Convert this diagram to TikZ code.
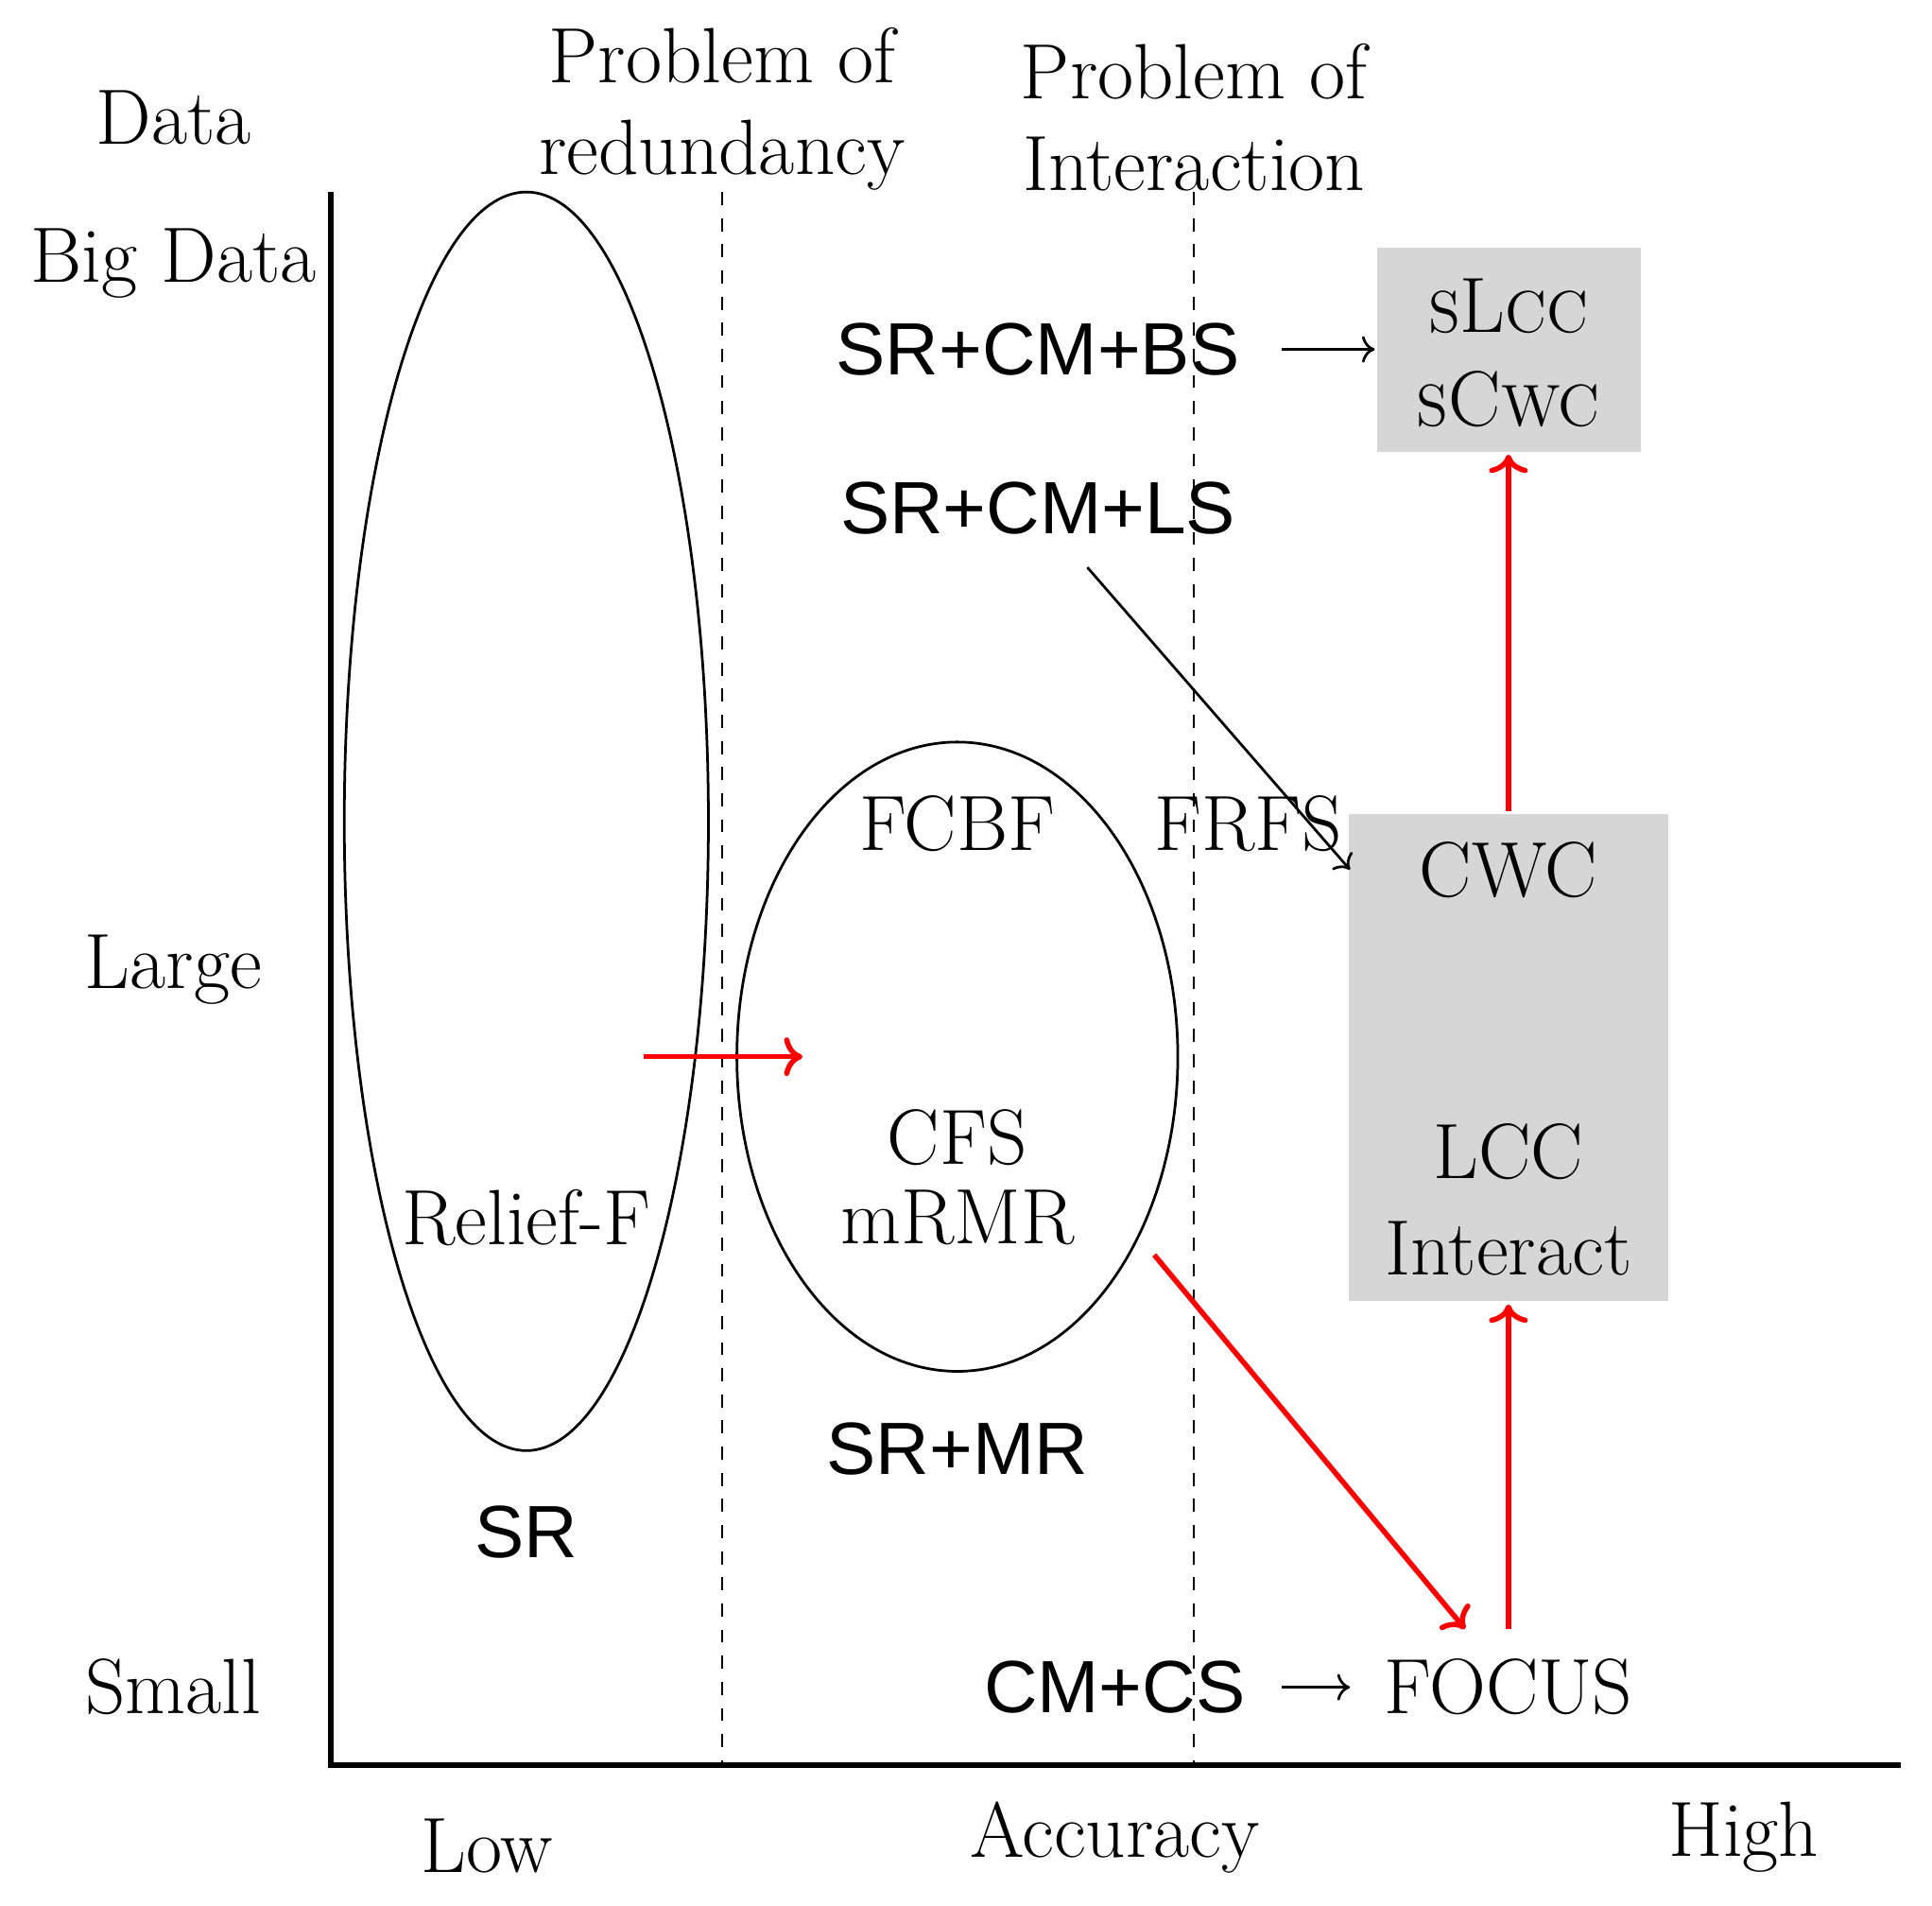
\documentclass[tikz,border=0pt]{standalone}
\usepackage{fontspec}
\newfontfamily\sanslab{Liberation Sans}
\usetikzlibrary{arrows.meta}
\newcommand{\smc}[1]{{\fontsize{13.5}{16}\selectfont #1}}
\tikzset{
  lab/.style={font=\fontsize{18}{21}\selectfont, align=center, inner sep=1pt},
  slab/.style={font=\fontsize{17}{20}\selectfont\sanslab, inner sep=1pt},
  redarr/.style={->, red, very thick},
  blkarr/.style={->, semithick},
  graybox/.style={fill=black!16, draw=none},
}
\begin{document}
\begin{tikzpicture}[x=0.01cm, y=-0.01cm, semithick]
      \useasboundingbox (0,0) rectangle (1560,1538);

      % axes
      \coordinate (top) at (267,155);
      \coordinate (orig) at (267,1425);
      \coordinate (right) at (1535,1425);
      \draw[very thick] (top) -- (orig) -- (right);
      \draw[dashed] (583,155) -- (583,1425);
      \draw[dashed] (964,155) -- (964,1425);

      % gray boxes
      \fill[graybox] (1112,200) rectangle (1325,365);
      \fill[graybox] (1089,657) rectangle (1347,1050);

      % ellipses
      \draw (425,663) ellipse [x radius=147, y radius=508];
      \draw (773,853) ellipse [x radius=178, y radius=254];

      % axis labels
      \node[lab] () at (140,95) {Data};
      \node[lab] () at (140,213) {Big Data};
      \node[lab] () at (140,783) {Large};
      \node[lab] () at (140,1362) {Small};
      \node[lab] () at (393,1490) {Low};
      \node[lab] () at (900,1483) {Accuracy};
      \node[lab] () at (1408,1483) {High};
      \node[lab] () at (583,88) {Problem of\\redundancy};
      \node[lab] () at (964,95) {Problem of\\Interaction};

      % methods
      \node[slab] (bs) at (838,282) {SR+CM+BS};
      \node[lab] (slcc) at (1218,247) {\smc{S}L\smc{CC}};
      \node[lab] (scwc) at (1218,322) {\smc{S}C\smc{WC}};
      \node[slab] (ls) at (838,410) {SR+CM+LS};
      \node[lab] (fcbf) at (773,665) {FCBF};
      \node[lab] (frfs) at (1008,665) {FRFS};
      \node[lab] (cwc) at (1218,702) {CWC};
      \node[lab] (lcc) at (1218,930) {LCC};
      \node[lab] (interact) at (1218,1008) {Interact};
      \node[lab] (cfs) at (773,918) {CFS};
      \node[lab] (mrmr) at (773,983) {mRMR};
      \node[lab] (relief) at (425,983) {Relief-F};
      \node[slab] (srmr) at (773,1170) {SR+MR};
      \node[slab] (sr) at (425,1237) {SR};
      \node[slab] (cmcs) at (900,1362) {CM+CS};
      \node[lab] (focus) at (1218,1362) {FOCUS};

      % black connectors
      \coordinate (bsend) at (1110,282);
      \draw[blkarr] (1035,282) -- (bsend);
      \coordinate (lsend) at (1090,702);
      \draw[blkarr] (878,458) -- (lsend);
      \coordinate (csa) at (1035,1362);
      \coordinate (csb) at (1090,1362);
      \draw[blkarr] (csa) -- (csb);

      % red connectors
      \coordinate (r1a) at (520,853);
      \coordinate (r1b) at (648,853);
      \draw[redarr] (r1a) -- (r1b);
      \coordinate (r2a) at (932,1013);
      \draw[redarr] (r2a) -- (1183,1315);
      \draw[redarr] (1218,1315) -- (1218,1053);
      \draw[redarr] (1218,655) -- (1218,367);
\end{tikzpicture}
\end{document}
